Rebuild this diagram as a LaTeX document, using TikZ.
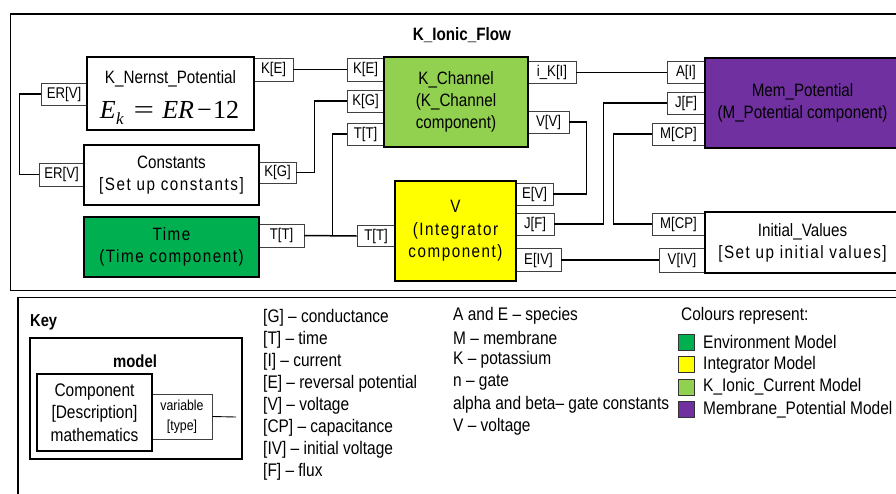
\documentclass[tikz,border=0pt]{standalone}
\usepackage{fontspec}
\setmainfont{Liberation Sans}
\newfontfamily\nar[FakeStretch=0.85]{Liberation Sans}
\newfontfamily\narsp[FakeStretch=0.85,LetterSpace=8.5]{Liberation Sans}
\newfontfamily\tms{Liberation Serif}
\definecolor{envgreen}{HTML}{00B050}
\definecolor{kgreen}{HTML}{92D050}
\definecolor{intyellow}{HTML}{FFFF00}
\definecolor{mempurple}{HTML}{7030A0}
\definecolor{portgray}{HTML}{404040}
\begin{document}
\begin{tikzpicture}[x=1pt,y=-1pt,
 mbox/.style={draw=black, line width=1.6pt, inner sep=0pt, align=center, font=\nar\fontsize{17.9}{22}\selectfont},
 spbox/.style={mbox, font=\narsp\fontsize{17.9}{22.5}\selectfont},
 port/.style={draw=portgray, line width=0.8pt, fill=white, inner sep=0pt, font=\nar\fontsize{15.5}{16}\selectfont},
 wire/.style={draw=black, line width=1.5pt},
 frame/.style={draw=black, line width=1.6pt},
 ktext/.style={anchor=west, inner sep=0pt, font=\nar\fontsize{18.2}{22}\selectfont},
 swatch/.style={draw=black!80, line width=0.8pt, minimum size=16pt, inner sep=0pt}
]
\useasboundingbox (0,0) rectangle (896,493);
\clip (0,0) rectangle (896,493);
\fill[white] (0,0) rectangle (896,493);

% frames
\draw[frame] (10.5,14) rectangle (910,290.5);
\draw[frame] (18,297.5) rectangle (910,510);
\node[font=\nar\bfseries\fontsize{17.9}{20}\selectfont, inner sep=0pt] (title) at (462,35) {K\_Ionic\_Flow};

% ports
\node[port, minimum width=46pt, minimum height=22pt] (nER) at (64,94) {ER[V]};
\node[port, minimum width=39pt, minimum height=23pt] (nKE) at (273.5,69.5) {K[E]};
\node[port, minimum width=45pt, minimum height=23pt] (cER) at (61.5,174.5) {ER[V]};
\node[port, minimum width=37pt, minimum height=21pt] (cKG) at (277.5,172.5) {K[G]};
\node[port, minimum width=45pt, minimum height=23pt] (tTT) at (281.5,235.5) {T[T]};
\node[port, minimum width=37pt, minimum height=23pt] (kKE) at (365.5,69.5) {K[E]};
\node[port, minimum width=37pt, minimum height=22pt] (kKG) at (365.5,101) {K[G]};
\node[port, minimum width=37pt, minimum height=22pt] (kTT) at (365.5,134) {T[T]};
\node[port, minimum width=48pt, minimum height=22pt] (kIK) at (552,72.5) {i\_K[I]};
\node[port, minimum width=41pt, minimum height=22pt] (kVV) at (548.5,122) {V[V]};
\node[port, minimum width=38pt, minimum height=21pt] (vTT) at (376,236) {T[T]};
\node[port, minimum width=37pt, minimum height=22pt] (vEV) at (534.5,194) {E[V]};
\node[port, minimum width=38pt, minimum height=22pt] (vJF) at (535,224) {J[F]};
\node[port, minimum width=45pt, minimum height=23pt] (vEIV) at (538.5,260) {E[IV]};
\node[port, minimum width=38pt, minimum height=22pt] (mAI) at (686,72.5) {A[I]};
\node[port, minimum width=38pt, minimum height=22pt] (mJF) at (686,103) {J[F]};
\node[port, minimum width=53pt, minimum height=22pt] (mMCP) at (678.5,134) {M[CP]};
\node[port, minimum width=53pt, minimum height=22pt] (iMCP) at (678.5,224) {M[CP]};
\node[port, minimum width=46pt, minimum height=24pt] (iVIV) at (682,260) {V[IV]};

% main boxes
\node[mbox, minimum width=167pt, minimum height=73pt, fill=white] (nernst) at (170.5,93.5) {};
\node[inner sep=0pt, font=\nar\fontsize{17.9}{22}\selectfont] (nernsttitle) at (170.5,78.5) {K\_Nernst\_Potential};
\node[inner sep=0pt, font=\tms\fontsize{26}{26}\selectfont] (nernsteq) at (169.5,113) {\itshape E\kern0.5pt\raisebox{-5.5pt}{\fontsize{17}{17}\selectfont k}\hspace{10pt}\upshape\scalebox{1.4}[1]{=}\hspace{8pt}\itshape ER\hspace{3pt}\upshape\char"2212\hspace{1.5pt}12};
\node[mbox, minimum width=175pt, minimum height=60pt, fill=white] (const) at (171.5,175) {Constants\\{\narsp [Set up constants]}};
\node[spbox, minimum width=175pt, minimum height=60pt, fill=envgreen] (time) at (171.5,247) {Time\\(Time component)};
\node[mbox, minimum width=144pt, minimum height=90pt, fill=kgreen] (kch) at (456,102) {K\_Channel\\(K\_Channel\\component)};
\node[spbox, minimum width=121pt, minimum height=100pt, fill=intyellow] (vint) at (455.5,231) {V\\(Integrator\\component)};
\node[mbox, minimum width=195pt, minimum height=90pt, fill=mempurple] (mem) at (802.5,103) {Mem\_Potential\\(M\_Potential component)};
\node[mbox, minimum width=195pt, minimum height=61pt, fill=white] (init) at (802.5,242.5) {Initial\_Values\\{\narsp [Set up initial values]}};

% wires
\draw[wire] (nER.west) -- ++(-21,0) |- (cER.west);
\draw[wire] (nKE.east) -- (kKE.west);
\draw[wire] (cKG.east) -- ++(18,0) |- (kKG.west);
\draw[wire] (tTT.east) -- (vTT.west);
\draw[wire] (tTT.east) -- ++(28,0) |- (kTT.west);
\draw[wire] (kIK.east) -- (mAI.west);
\draw[wire] (kVV.east) -- ++(17,0) |- (vEV.east);
\draw[wire] (vJF.east) -- ++(49,0) |- (mJF.west);
\draw[wire] (mMCP.west) -- ++(-38,0) |- (iMCP.west);
\draw[wire] (vEIV.east) -- (iVIV.west);

% key
\node[anchor=west, inner sep=0pt, font=\nar\bfseries\fontsize{17.3}{20}\selectfont] (keyt) at (30,322) {Key};
\node[draw=black, line width=1.6pt, minimum width=212pt, minimum height=121pt, inner sep=0pt] (model) at (136,398.5) {};
\node[inner sep=0pt, font=\nar\bfseries\fontsize{17.5}{20}\selectfont] (modelt) at (135,361) {model};
\node[port, minimum width=60pt, minimum height=45pt, align=center, font=\nar\fontsize{14.5}{20}\selectfont] (var) at (182,416.5) {variable\\{[type]}};
\node[mbox, minimum width=115pt, minimum height=77pt, fill=white, font=\nar\fontsize{18.2}{22.5}\selectfont] (comp) at (94.5,412.5) {Component\\{[Description]}\\mathematics};
\coordinate (varend) at (236,417);
\draw[draw=black, line width=0.9pt] (var.east) -- (varend);

\node[ktext] (g1) at (263,318) {[G] – conductance};
\node[ktext] (g2) at (263,340) {[T] – time};
\node[ktext] (g3) at (263,362) {[I] – current};
\node[ktext] (g4) at (263,384) {[E] – reversal potential};
\node[ktext] (g5) at (263,406) {[V] – voltage};
\node[ktext] (g6) at (263,428) {[CP] – capacitance};
\node[ktext] (g7) at (263,450) {[IV] – initial voltage};
\node[ktext] (g8) at (263,472) {[F] – flux};

\node[ktext] (h1) at (453,316) {A and E – species};
\node[ktext] (h2) at (453,338) {M – membrane};
\node[ktext] (h3) at (453,360) {K – potassium};
\node[ktext] (h4) at (453,382.5) {n – gate};
\node[ktext] (h5) at (453,404.5) {alpha and beta– gate constants};
\node[ktext] (h6) at (453,427) {V – voltage};

\node[ktext] (colt) at (681,316) {Colours represent:};
\node[swatch, fill=envgreen] (s1) at (686,342) {};
\node[swatch, fill=intyellow] (s2) at (686,364.5) {};
\node[swatch, fill=kgreen] (s3) at (686,387) {};
\node[swatch, fill=mempurple] (s4) at (686,409.5) {};
\node[ktext] (l1) at (703,342) {Environment Model};
\node[ktext] (l2) at (703,364.5) {Integrator Model};
\node[ktext] (l3) at (703,387) {K\_Ionic\_Current Model};
\node[ktext] (l4) at (703,409.5) {Membrane\_Potential Model};
\end{tikzpicture}
\end{document}
